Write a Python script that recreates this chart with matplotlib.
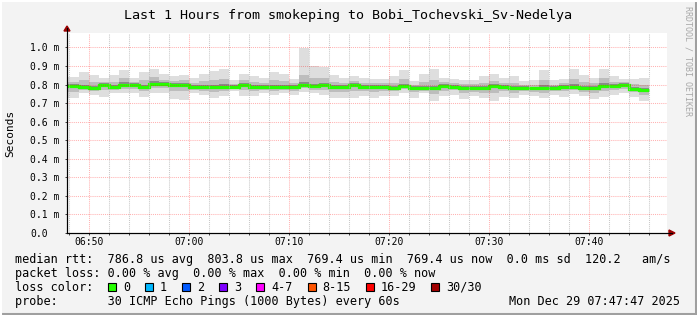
import numpy as np
import matplotlib
matplotlib.use("Agg")
import matplotlib.pyplot as plt
from matplotlib.patches import Rectangle, Polygon
from matplotlib.lines import Line2D
from datetime import datetime, timedelta

# ---------------- data ----------------
title = "Last 1 Hours from smokeping to Bobi_Tochevski_Sv-Nedelya"
graph_end = datetime(2025, 12, 29, 7, 47, 47)
graph_span_min = 60
first_sample_end = datetime(2025, 12, 29, 6, 49, 0)

median_ms = [0.791, 0.788, 0.782, 0.798, 0.787, 0.799, 0.799, 0.787, 0.804, 0.801,
             0.800, 0.800, 0.786, 0.787, 0.787, 0.787, 0.787, 0.799, 0.787, 0.787,
             0.787, 0.787, 0.787, 0.800, 0.790, 0.798, 0.787, 0.787, 0.797, 0.787,
             0.788, 0.788, 0.784, 0.791, 0.784, 0.780, 0.780, 0.791, 0.788, 0.784,
             0.782, 0.782, 0.791, 0.788, 0.784, 0.782, 0.779, 0.784, 0.782, 0.788,
             0.788, 0.782, 0.784, 0.793, 0.793, 0.800, 0.777, 0.769]
max_ms = [0.841, 0.866, 0.850, 0.838, 0.850, 0.877, 0.838, 0.868, 0.882, 0.858,
          0.845, 0.850, 0.838, 0.858, 0.872, 0.882, 0.827, 0.855, 0.846, 0.838,
          0.868, 0.855, 0.829, 0.996, 0.900, 0.895, 0.850, 0.836, 0.845, 0.838,
          0.832, 0.832, 0.845, 0.877, 0.820, 0.855, 0.882, 0.838, 0.832, 0.825,
          0.827, 0.845, 0.855, 0.838, 0.845, 0.820, 0.822, 0.877, 0.822, 0.832,
          0.886, 0.850, 0.838, 0.882, 0.845, 0.832, 0.832, 0.838]
min_ms = [0.725, 0.752, 0.743, 0.734, 0.755, 0.752, 0.752, 0.734, 0.752, 0.755,
          0.720, 0.718, 0.752, 0.743, 0.725, 0.738, 0.768, 0.737, 0.738, 0.752,
          0.743, 0.755, 0.743, 0.761, 0.752, 0.743, 0.730, 0.730, 0.725, 0.737,
          0.730, 0.737, 0.737, 0.755, 0.730, 0.752, 0.712, 0.737, 0.745, 0.720,
          0.737, 0.725, 0.712, 0.734, 0.725, 0.743, 0.737, 0.725, 0.743, 0.734,
          0.748, 0.737, 0.720, 0.734, 0.743, 0.752, 0.734, 0.712]
p75_ms = [0.814, 0.823, 0.812, 0.816, 0.815, 0.834, 0.816, 0.823, 0.839, 0.826,
          0.820, 0.822, 0.809, 0.819, 0.825, 0.830, 0.805, 0.824, 0.813, 0.810,
          0.823, 0.818, 0.806, 0.850, 0.835, 0.835, 0.815, 0.809, 0.818, 0.810,
          0.808, 0.808, 0.811, 0.830, 0.800, 0.814, 0.826, 0.812, 0.808, 0.802,
          0.802, 0.810, 0.820, 0.810, 0.811, 0.799, 0.798, 0.826, 0.800, 0.808,
          0.832, 0.813, 0.808, 0.833, 0.816, 0.814, 0.802, 0.800]
p25_ms = [0.761, 0.772, 0.764, 0.769, 0.773, 0.778, 0.778, 0.763, 0.781, 0.780,
          0.764, 0.763, 0.771, 0.767, 0.759, 0.765, 0.778, 0.771, 0.765, 0.771,
          0.767, 0.773, 0.767, 0.782, 0.773, 0.773, 0.761, 0.761, 0.765, 0.765,
          0.762, 0.765, 0.763, 0.775, 0.760, 0.767, 0.749, 0.767, 0.769, 0.755,
          0.762, 0.757, 0.755, 0.764, 0.757, 0.764, 0.760, 0.757, 0.764, 0.764,
          0.770, 0.762, 0.755, 0.766, 0.770, 0.778, 0.758, 0.743]
p60_ms = [0.803, 0.800, 0.794, 0.808, 0.800, 0.812, 0.809, 0.800, 0.818, 0.812,
          0.811, 0.811, 0.797, 0.799, 0.800, 0.801, 0.797, 0.810, 0.798, 0.797,
          0.800, 0.799, 0.797, 0.815, 0.805, 0.811, 0.799, 0.797, 0.808, 0.797,
          0.798, 0.798, 0.795, 0.804, 0.794, 0.793, 0.794, 0.802, 0.798, 0.794,
          0.792, 0.793, 0.803, 0.798, 0.795, 0.792, 0.789, 0.797, 0.792, 0.798,
          0.801, 0.794, 0.795, 0.806, 0.804, 0.810, 0.788, 0.781]
p40_ms = [0.782, 0.780, 0.774, 0.789, 0.779, 0.790, 0.790, 0.778, 0.795, 0.792,
          0.789, 0.789, 0.778, 0.778, 0.777, 0.778, 0.780, 0.790, 0.778, 0.779,
          0.778, 0.779, 0.778, 0.791, 0.781, 0.789, 0.777, 0.777, 0.787, 0.778,
          0.779, 0.779, 0.775, 0.782, 0.775, 0.772, 0.770, 0.782, 0.779, 0.775,
          0.773, 0.773, 0.781, 0.779, 0.775, 0.773, 0.770, 0.775, 0.773, 0.779,
          0.779, 0.773, 0.775, 0.783, 0.784, 0.791, 0.768, 0.759]

y_ticks = [0.0, 0.1, 0.2, 0.3, 0.4, 0.5, 0.6, 0.7, 0.8, 0.9, 1.0]
y_tick_labels = ["0.0", "0.1 m", "0.2 m", "0.3 m", "0.4 m", "0.5 m",
                 "0.6 m", "0.7 m", "0.8 m", "0.9 m", "1.0 m"]
y_max = 1.078
x_major_labels = ["06:50", "07:00", "07:10", "07:20", "07:30", "07:40"]
y_label = "Seconds"

rtt_avg, rtt_max, rtt_min, rtt_now, rtt_sd, rtt_ams = "786.8", "803.8", "769.4", "769.4", "0.0", "120.2"
loss_avg, loss_max, loss_min, loss_now = "0.00", "0.00", "0.00", "0.00"
loss_labels = ["0", "1", "2", "3", "4-7", "8-15", "16-29", "30/30"]
loss_colors = ["#26ff00", "#00b8ff", "#0059ff", "#7e00ff", "#ff00ff",
               "#ff5500", "#ff0000", "#a10000"]
probe_text = "30 ICMP Echo Pings (1000 Bytes) every 60s"
stamp_text = "Mon Dec 29 07:47:47 2025"
watermark = "RRDTOOL / TOBI OETIKER"

# ---------------- layout ----------------
W, H, DPI = 697, 315, 100
MONO = "DejaVu Sans Mono"
BG = "#f3f3f3"

graph_start = graph_end - timedelta(minutes=graph_span_min)
n = len(median_ms)
edges = [0.0] + [((first_sample_end + timedelta(minutes=k)) - graph_start).total_seconds() / 60
                 for k in range(n)]
edges = np.array(edges)

def minutes_of(label):
    h, m = map(int, label.split(":"))
    t = graph_start.replace(hour=h, minute=m, second=0)
    return (t - graph_start).total_seconds() / 60

major_x = [minutes_of(l) for l in x_major_labels]
first_even = graph_start.replace(second=0) + timedelta(minutes=1)
if first_even.minute % 2:
    first_even += timedelta(minutes=1)
minor_x = []
t = first_even
while (t - graph_start).total_seconds() / 60 < graph_span_min:
    v = (t - graph_start).total_seconds() / 60
    if all(abs(v - m) > 1e-6 for m in major_x):
        minor_x.append(v)
    t += timedelta(minutes=2)

def P(x, y):
    return (x / W, 1 - y / H)

fig = plt.figure(figsize=(W / DPI, H / DPI), dpi=DPI, facecolor=BG)
L, T, R, B = 67, 33, 667, 233
ax = fig.add_axes([L / W, 1 - B / H, (R - L) / W, (B - T) / H], facecolor="white")
ax.set_xlim(0, graph_span_min)
ax.set_ylim(0, y_max)

# smoke
ax.stairs(max_ms, edges, baseline=min_ms, fill=True, color="#dedede", lw=0, zorder=1)
ax.stairs(p75_ms, edges, baseline=p25_ms, fill=True, color="#bdbdbd", lw=0, zorder=2)
ax.stairs(p60_ms, edges, baseline=p40_ms, fill=True, color="#8a8a8a", lw=0, zorder=3)
# median
ax.stairs(median_ms, edges, baseline=None, color=loss_colors[0], lw=2.3, zorder=4)

# grid on top
dot = (0, (1, 1))
for x in minor_x:
    ax.axvline(x, color="#bbbbbb", lw=0.75, ls=dot, alpha=0.8, zorder=6)
for x in major_x:
    ax.axvline(x, color="#ff0000", lw=0.75, ls=dot, alpha=0.3, zorder=6)
for y in y_ticks[1:]:
    ax.axhline(y, color="#ff0000", lw=0.75, ls=dot, alpha=0.3, zorder=6)

for s in ["top", "right"]:
    ax.spines[s].set_visible(False)
for s in ["left", "bottom"]:
    ax.spines[s].set_color("#000000")
    ax.spines[s].set_linewidth(0.8)
    ax.spines[s].set_zorder(7)

ax.set_yticks(y_ticks)
ax.set_yticklabels(y_tick_labels, fontsize=7, family=MONO)
ax.set_xticks(major_x)
ax.set_xticklabels(x_major_labels, fontsize=7, family=MONO)
ax.set_xticks(minor_x, minor=True)
ax.tick_params(axis="both", which="both", length=1.5, width=0.7, color="#404040")
ax.tick_params(axis="y", pad=25.2)
ax.tick_params(axis="x", pad=1.5)
for lab in ax.get_yticklabels():
    lab.set_horizontalalignment("left")

# axis extensions with arrows
ac = "#990000"
fig.add_artist(Line2D([P(L, B)[0], P(L, 28)[0]], [P(L, B)[1], P(L, 28)[1]],
                      color="#000000", lw=0.8, transform=fig.transFigure))
fig.add_artist(Line2D([P(L, B)[0], P(672, B)[0]], [P(L, B)[1], P(672, B)[1]],
                      color="#000000", lw=0.8, transform=fig.transFigure))
fig.add_artist(Polygon([P(L - 3, 31), P(L + 3, 31), P(L, 26)], closed=True,
                       color=ac, transform=fig.transFigure))
fig.add_artist(Polygon([P(669, B - 3), P(669, B + 3), P(675, B)], closed=True,
                       color=ac, transform=fig.transFigure))

# title, labels
fig.text(*P(348, 18.5), title, ha="center", va="baseline", fontsize=9.6, family=MONO)
fig.text(*P(10, 133), y_label, rotation=90, ha="center", va="center", fontsize=8, family=MONO)
fig.text(*P(688, 61), watermark, rotation=270, ha="center", va="center",
         fontsize=6, family=MONO, color="#a8a8a8")

# legend
X0 = 15
line1 = (f"median rtt:  {rtt_avg} us avg  {rtt_max} us max  {rtt_min} us min  "
         f"{rtt_now} us now  {rtt_sd} ms sd  {rtt_ams}   am/s")
line2 = f"packet loss: {loss_avg} % avg  {loss_max} % max  {loss_min} % min  {loss_now} % now"
fig.text(*P(X0, 263), line1, ha="left", va="baseline", fontsize=8.5, family=MONO)
fig.text(*P(X0, 277), line2, ha="left", va="baseline", fontsize=8.5, family=MONO)
fig.text(*P(X0, 291), "loss color:", ha="left", va="baseline", fontsize=8.5, family=MONO)
fig.text(*P(X0, 305), "probe:       " + probe_text, ha="left", va="baseline", fontsize=8.5, family=MONO)
fig.text(*P(680, 305), stamp_text, ha="right", va="baseline", fontsize=8.5, family=MONO)

cw = 7.125
bx = 108
for lab, col in zip(loss_labels, loss_colors):
    x0, y0 = P(bx, 291)
    fig.add_artist(Rectangle((x0, y0), 8 / W, 8 / H, facecolor=col, edgecolor="black",
                             lw=0.8, transform=fig.transFigure))
    fig.text(*P(bx + 15, 291), lab, ha="left", va="baseline", fontsize=8.5, family=MONO)
    bx += (len(lab) + 4.2) * cw

# frame
fig.add_artist(Line2D([0, 1], [1.5 / H, 1.5 / H], color="#9f9f9f", lw=2.2, transform=fig.transFigure))
fig.add_artist(Line2D([1 - 1.5 / W, 1 - 1.5 / W], [0, 1], color="#9f9f9f", lw=2.2, transform=fig.transFigure))
fig.add_artist(Line2D([0, 1], [1 - 1 / H, 1 - 1 / H], color="white", lw=1.5, transform=fig.transFigure))
fig.add_artist(Line2D([1 / W, 1 / W], [0, 1], color="white", lw=1.5, transform=fig.transFigure))

fig.savefig("out.png", dpi=DPI, facecolor=BG)
